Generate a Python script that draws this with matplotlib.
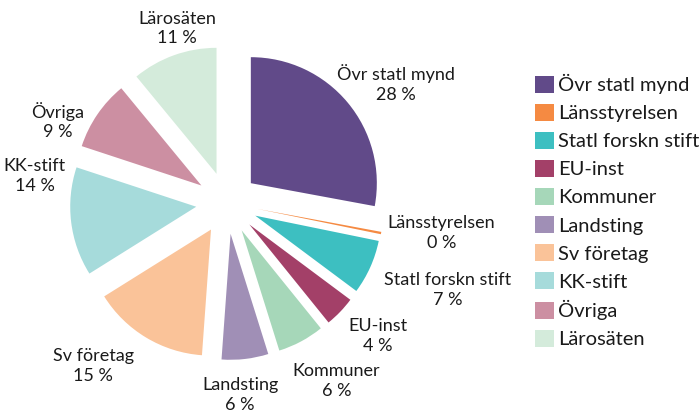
import numpy as np
import matplotlib.pyplot as plt

plt.rcParams['font.family'] = ['Lato', 'DejaVu Sans']

categories = ["Övr statl mynd", "Länsstyrelsen", "Statl forskn stift", "EU-inst",
              "Kommuner", "Landsting", "Sv företag", "KK-stift", "Övriga", "Lärosäten"]
values = [28, 0.3, 7, 4, 6, 6, 15, 14, 9, 11]
pct_labels = ["28 %", "0 %", "7 %", "4 %", "6 %", "6 %", "15 %", "14 %", "9 %", "11 %"]
colors = ["#614a89", "#f58a42", "#3dbfc1", "#a34068", "#a6d7b9",
          "#a08fb6", "#fac399", "#a6dbdb", "#cc8fa2", "#d4ebdb"]

# label placement (angle in degrees, distance in radii) - layout only
label_angle = [35.4, -7.9, -21.5, -41.4, -58.5, -86.1, -129.4, 172.0, 154.1, 105.9]
label_dist = [1.64, 1.72, 1.885, 1.60, 1.66, 1.53, 1.675, 1.54, 1.49, 1.44]

fig = plt.figure(figsize=(6.99, 4.16), dpi=100)
# pie centre at ~(227, 203) px, radius ~126 px
W, H = 699, 416
L = 1.5
size = 126 * L * 2
ax = fig.add_axes([(227 - size / 2) / W, (213 - size / 2) / H, size / W, size / H])

labels = [c + "\n" + p for c, p in zip(categories, pct_labels)]
wedges, texts = ax.pie(values, colors=colors, startangle=90, counterclock=False,
                       explode=[0.246] * len(values), labels=labels,
                       textprops=dict(fontsize=13, color="#1a1a1a", linespacing=1.3))
for t, a, d in zip(texts, label_angle, label_dist):
    r = np.deg2rad(a)
    t.set_position((d * np.cos(r), d * np.sin(r)))
    t.set_ha("center")
    t.set_va("center")
    t.set_multialignment("center")
ax.set_xlim(-L, L)
ax.set_ylim(-L, L)
ax.set_aspect("equal")
ax.axis("off")

fig.legend(wedges, categories, loc="upper left", bbox_to_anchor=(535 / W, 1 - 74 / H),
           frameon=False, fontsize=14.5, handlelength=0.95, handleheight=0.95,
           handletextpad=0.2, labelspacing=0.47, borderpad=0, borderaxespad=0,
           labelcolor="#1a1a1a")

fig.savefig("out.png", dpi=100)
